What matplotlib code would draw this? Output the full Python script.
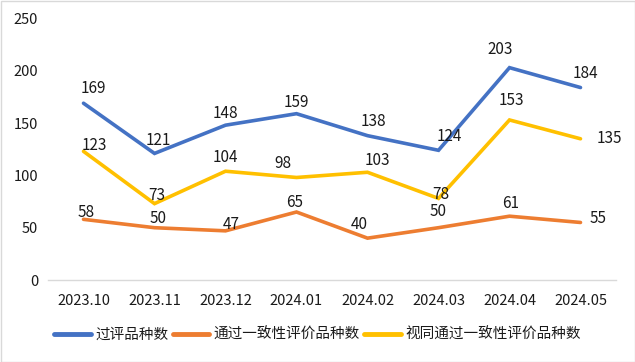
import matplotlib
matplotlib.use("Agg")
import matplotlib.pyplot as plt
from matplotlib.patches import Rectangle

plt.rcParams['font.family'] = ['Noto Sans CJK SC', 'DejaVu Sans']

categories = ["2023.10", "2023.11", "2023.12", "2024.01", "2024.02", "2024.03", "2024.04", "2024.05"]
series_names = ["过评品种数", "通过一致性评价品种数", "视同通过一致性评价品种数"]
reviewed = [169, 121, 148, 159, 138, 124, 203, 184]
passed = [58, 50, 47, 65, 40, 50, 61, 55]
deemed = [123, 73, 104, 98, 103, 78, 153, 135]
y_ticks = [0, 50, 100, 150, 200, 250]

colors = ["#4472C4", "#ED7D31", "#FFC000"]
# label offsets in pixels (dx, dy up)
offs = [
    [(10, 15), (4, 13), (0, 12), (0, 11), (6, 14), (11, 14), (-9, 18), (5, 14)],
    [(3, 7), (4, 9), (6, 6), (-2, 10), (-8, 14), (0, 16), (1, 13), (18, 4)],
    [(11, 6), (2, 8), (0, 14), (-14, 14), (10, 12), (2, 4), (2, 19), (29, 0)],
]

fig = plt.figure(figsize=(6.35, 3.62), dpi=100)
ax = fig.add_axes([48/635, 1-280/362, (616-48)/635, (280-18.5)/362])
x = list(range(len(categories)))
txtc = "#1a1a1a"
for i, (vals, name) in enumerate(zip([reviewed, passed, deemed], series_names)):
    ax.plot(x, vals, color=colors[i], lw=2.6, label=name, solid_capstyle='round',
            solid_joinstyle='miter', zorder=2+i)
    for j, v in enumerate(vals):
        dx, dy = offs[i][j]
        ax.annotate(str(v), (j, v), xytext=(dx, dy), textcoords='offset pixels',
                    ha='center', va='center', fontsize=11, color=txtc, zorder=10)

ax.set_xlim(-0.5, len(categories)-0.5)
ax.set_ylim(0, 250)
ax.set_yticks(y_ticks)
ax.set_xticks(x)
ax.set_xticklabels(categories)
ax.tick_params(axis='both', length=0, labelsize=10.5, labelcolor=txtc)
ax.tick_params(axis='x', pad=10)
ax.tick_params(axis='y', pad=7)
for s in ['top', 'right', 'left']:
    ax.spines[s].set_visible(False)
ax.spines['bottom'].set_color('#D9D9D9')
ax.spines['bottom'].set_linewidth(1.0)

leg = fig.legend(loc='center', bbox_to_anchor=(0.5, 1-335/362), ncol=3, frameon=False,
                 fontsize=10.5, handlelength=2.5, handletextpad=0.3, columnspacing=0.3,
                 labelcolor=txtc)
for h in leg.get_lines():
    h.set_linewidth(3.5)

fig.patches.append(Rectangle((0.5/635, 0.5/362), 1-1/635, 1-1/362, transform=fig.transFigure,
                             fill=False, edgecolor='#D9D9D9', lw=1))
fig.savefig("out.png", dpi=100)
